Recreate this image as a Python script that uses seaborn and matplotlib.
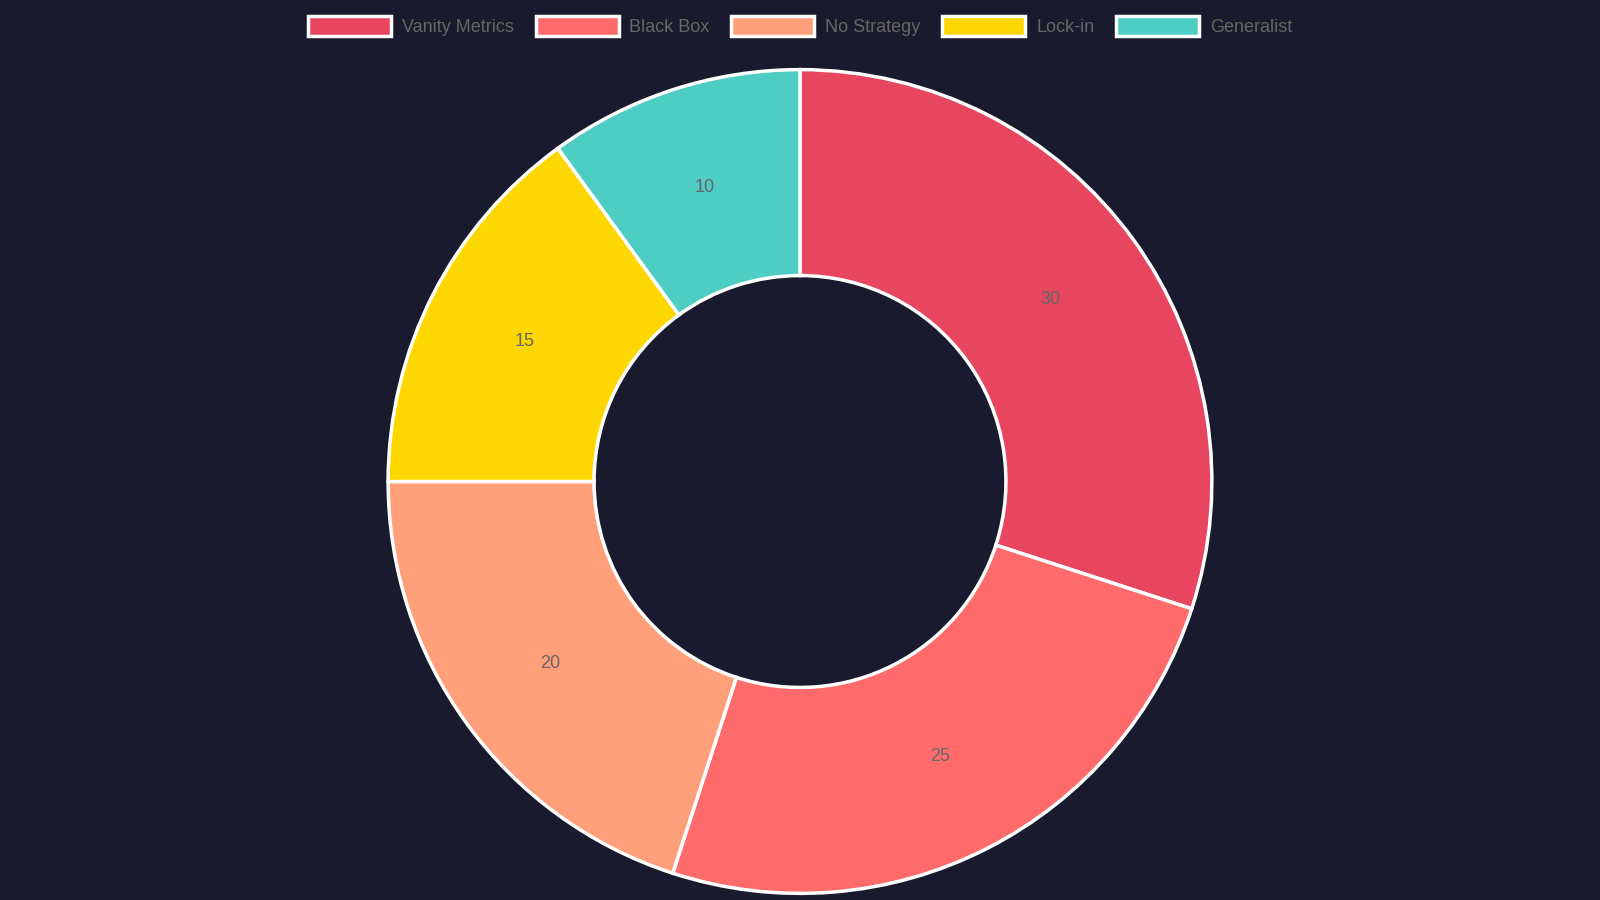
import matplotlib
matplotlib.use("Agg")
import matplotlib.pyplot as plt
import matplotlib.patches as mpatches
import seaborn as sns

labels = ["Vanity Metrics", "Black Box", "No Strategy", "Lock-in", "Generalist"]
values = [30, 25, 20, 15, 10]
colors = ["#e8455f", "#ff6b6b", "#ffa07a", "#ffd700", "#4ecdc4"]

bg = "#1a1a2e"
sns.set_theme(style="white")
plt.rcParams["font.family"] = ["Liberation Sans", "DejaVu Sans"]

palette = sns.color_palette(colors)

fig = plt.figure(figsize=(16, 9), dpi=100, facecolor=bg)
ax = fig.add_axes([0.24, 0.0025, 0.52, 0.925])
ax.set_facecolor(bg)

wedges, texts = ax.pie(
    values, colors=palette, startangle=90, counterclock=False,
    wedgeprops=dict(width=0.5, edgecolor="white", linewidth=2.5),
    radius=1.0,
)
import numpy as np
total = sum(values)
start = 90.0
for v in values:
    mid = np.deg2rad(start - v / total * 360 / 2)
    ax.text(0.75 * np.cos(mid), 0.75 * np.sin(mid), str(v),
            ha="center", va="center", fontsize=13, color="#666666")
    start -= v / total * 360
ax.set_xlim(-1.01, 1.01)
ax.set_ylim(-1.01, 1.01)
ax.set_aspect("equal")
ax.axis("off")

handles = [mpatches.Patch(facecolor=c, edgecolor="white", linewidth=2.5, label=l)
           for c, l in zip(colors, labels)]
leg = fig.legend(handles=handles, loc="upper center", bbox_to_anchor=(0.5, 1.0),
                 ncol=5, frameon=False, fontsize=13, labelcolor="#666666",
                 handlelength=4.6, handleheight=1.3, columnspacing=1.2, handletextpad=0.6)

fig.savefig("out.png", facecolor=bg)
